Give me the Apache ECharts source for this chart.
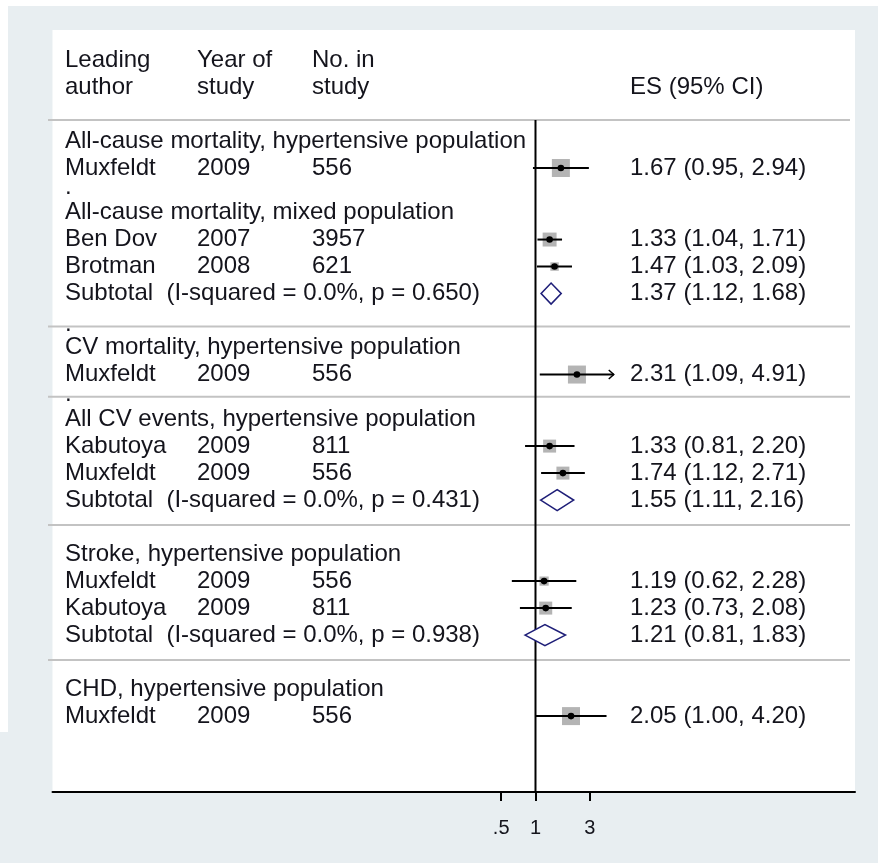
<!DOCTYPE html>
<html>
<head>
<meta charset="utf-8">
<script src="https://cdn.jsdelivr.net/npm/echarts@6/dist/echarts.min.js"></script>
<style>
  html, body { margin: 0; padding: 0; background: #ffffff; }
  #chart { width: 878px; height: 863px; }
</style>
</head>
<body>
<div id="chart"></div>
<script>
// ---- Subgroups (outcome, population) ----
const groupTitles = [
  'All-cause mortality, hypertensive population',
  'All-cause mortality, mixed population',
  'CV mortality, hypertensive population',
  'All CV events, hypertensive population',
  'Stroke, hypertensive population',
  'CHD, hypertensive population'
];
const groupSection = [0, 0, 1, 2, 3, 4];          // groups sharing a section are not ruled apart
const groupTrailingDot = [true, true, true, false, false, false];

// ---- Individual studies ----
const studyGroup  = [0, 1, 1, 2, 3, 3, 4, 4, 5];
const studyAuthor = ['Muxfeldt', 'Ben Dov', 'Brotman', 'Muxfeldt', 'Kabutoya', 'Muxfeldt', 'Muxfeldt', 'Kabutoya', 'Muxfeldt'];
const studyYear   = [2009, 2007, 2008, 2009, 2009, 2009, 2009, 2009, 2009];
const studyN      = [556, 3957, 621, 556, 811, 556, 556, 811, 556];
const studyES     = [1.67, 1.33, 1.47, 2.31, 1.33, 1.74, 1.19, 1.23, 2.05];
const studyLo     = [0.95, 1.04, 1.03, 1.09, 0.81, 1.12, 0.62, 0.73, 1.00];
const studyHi     = [2.94, 1.71, 2.09, 4.91, 2.20, 2.71, 2.28, 2.08, 4.20];
const studyWeight = [100, 60, 22, 100, 52, 52, 26, 52, 100]; // % weight within subgroup

// ---- Pooled subtotals ----
const subGroup = [1, 3, 4];
const subES    = [1.37, 1.55, 1.21];
const subLo    = [1.12, 1.11, 0.81];
const subHi    = [1.68, 2.16, 1.83];
const subI2    = ['0.0%', '0.0%', '0.0%'];
const subP     = ['0.650', '0.431', '0.938'];

// ---- Axis ----
const tickValues = [0.5, 1, 3];
const tickLabels = ['.5', '1', '3'];

// ---- Column headings ----
const headLine1 = ['Leading', 'Year of', 'No. in', ''];
const headLine2 = ['author', 'study', 'study', 'ES (95% CI)'];

// ---------------------------------------------------------------
// Layout
const FONT = '"Liberation Sans", Arial, sans-serif';
const INK = '#14141c';
const COL_X = [65, 197, 312, 630];       // text columns
const ROW_PX = 27;                        // one text line
const GRID = { left: 52.5, right: 23, top: 30, bottom: 71 };
const FIRST_ROW_Y = 141;
const Y_MIN = (GRID.top - FIRST_ROW_Y) / ROW_PX;
const Y_MAX = (863 - GRID.bottom - FIRST_ROW_Y) / ROW_PX;
const X_MIN = -9.758, X_MAX = 6.455;     // log-scale extent of the axis
const CI_CLIP = 4.86;                     // CI lines beyond this end in an arrow
const BOX_MAX = 18;

const fmt = v => v.toFixed(2);
const ciText = (e, l, h) => fmt(e) + ' (' + fmt(l) + ', ' + fmt(h) + ')';

// Build text rows, mark rows and rules
const textRows = [];
textRows.push({ slot: -3, cells: headLine1 });
textRows.push({ slot: -2, cells: headLine2 });
const rules = [-0.78];
const studySlot = [], subSlot = [];
let slot = 0;
groupTitles.forEach((title, g) => {
  textRows.push({ slot, cells: [title] });
  slot += 1;
  studyGroup.forEach((sg, i) => {
    if (sg !== g) return;
    studySlot[i] = slot;
    textRows.push({ slot, cells: [studyAuthor[i], String(studyYear[i]), String(studyN[i]),
      ciText(studyES[i], studyLo[i], studyHi[i])] });
    slot += 1;
  });
  const k = subGroup.indexOf(g);
  const hasSub = k >= 0;
  if (hasSub) {
    subSlot[k] = slot;
    textRows.push({ slot, cells: ['Subtotal  (I-squared = ' + subI2[k] + ', p = ' + subP[k] + ')', '', '',
      ciText(subES[k], subLo[k], subHi[k])] });
    slot += 1;
  }
  const last = slot - 1;
  let dotSlot = null;
  if (groupTrailingDot[g]) {
    dotSlot = hasSub ? last + 1.13 : last + 0.73;
    textRows.push({ slot: dotSlot, cells: ['.'] });
  }
  if (g < groupTitles.length - 1 && groupSection[g + 1] !== groupSection[g]) {
    rules.push(dotSlot !== null ? dotSlot + 0.09 : last + 0.92);
  }
  slot = hasSub ? last + 2 : last + 1.65;
});

const chart = echarts.init(document.getElementById('chart'), null, { renderer: 'canvas' });

const option = {
  backgroundColor: '#e8eef1',
  animation: false,
  graphic: [
    { type: 'rect', shape: { x: 0, y: 0, width: 878, height: 6 }, style: { fill: '#ffffff' }, silent: true },
    { type: 'rect', shape: { x: 0, y: 0, width: 8, height: 732 }, style: { fill: '#ffffff' }, silent: true }
  ],
  grid: {
    left: GRID.left, right: GRID.right, top: GRID.top, bottom: GRID.bottom,
    show: true, backgroundColor: '#ffffff', borderWidth: 0
  },
  xAxis: {
    type: 'value', min: X_MIN, max: X_MAX, position: 'bottom',
    splitLine: { show: false },
    axisLine: { show: true, onZero: false, lineStyle: { color: '#000', width: 2 } },
    axisTick: { show: true, customValues: tickValues.map(Math.log), length: 9,
      lineStyle: { color: '#000', width: 2 } },
    axisLabel: {
      show: true, customValues: tickValues.map(Math.log), margin: 26,
      fontSize: 20, fontFamily: FONT, color: INK,
      formatter: v => {
        const j = tickValues.findIndex(t => Math.abs(Math.log(t) - v) < 1e-6);
        return j >= 0 ? tickLabels[j] : '';
      }
    }
  },
  yAxis: { type: 'value', inverse: true, min: Y_MIN, max: Y_MAX, show: false },
  series: [
    // text rows (drawn first so the rules sit on top of the trailing dots)
    {
      type: 'custom', name: 'text', z: 1, clip: false,
      data: textRows.map((r, i) => [0, r.slot, i]),
      renderItem(params, api) {
        const r = textRows[api.value(2)];
        const y = api.coord([0, api.value(1)])[1];
        const children = [];
        r.cells.forEach((t, c) => {
          if (!t) return;
          children.push({ type: 'text', style: { text: t, x: COL_X[c], y, fill: INK,
            fontSize: 24, fontFamily: FONT, align: 'left', verticalAlign: 'middle' } });
        });
        return { type: 'group', children };
      }
    },
    // horizontal rules between sections
    {
      type: 'custom', name: 'rules', z: 2, clip: false,
      data: rules.map(s => [0, s]),
      renderItem(params, api) {
        const cs = params.coordSys;
        const y = api.coord([0, api.value(1)])[1];
        return { type: 'line', shape: { x1: cs.x - 4.5, y1: y, x2: cs.x + cs.width - 5, y2: y },
          style: { stroke: '#c3c3c3', lineWidth: 2 } };
      }
    },
    // line of no effect
    {
      type: 'custom', name: 'null', z: 3, clip: false,
      data: [[0, rules[0]]],
      renderItem(params, api) {
        const p0 = api.coord([0, api.value(1)]);
        const p1 = api.coord([0, Y_MAX]);
        return { type: 'line', shape: { x1: p0[0], y1: p0[1], x2: p1[0], y2: p1[1] },
          style: { stroke: '#000', lineWidth: 2 } };
      }
    },
    // study estimates with confidence intervals
    {
      type: 'custom', name: 'studies', z: 4, clip: false,
      data: studyES.map((e, i) => [Math.log(e), studySlot[i], Math.log(studyLo[i]),
        Math.log(Math.min(studyHi[i], CI_CLIP)), studyWeight[i], studyHi[i] > CI_CLIP ? 1 : 0]),
      renderItem(params, api) {
        const c = api.coord([api.value(0), api.value(1)]);
        const a = api.coord([api.value(2), api.value(1)]);
        const b = api.coord([api.value(3), api.value(1)]);
        const side = BOX_MAX * Math.sqrt(api.value(4) / 100);
        const children = [
          { type: 'rect', shape: { x: c[0] - side / 2, y: c[1] - side / 2, width: side, height: side },
            style: { fill: '#b4b4b4' } },
          { type: 'line', shape: { x1: a[0], y1: a[1], x2: b[0], y2: b[1] },
            style: { stroke: '#000', lineWidth: 2 } },
          { type: 'circle', shape: { cx: c[0], cy: c[1], r: 3.3 }, style: { fill: '#000' } }
        ];
        if (api.value(5)) {
          children.push({ type: 'polyline',
            shape: { points: [[b[0] - 5, b[1] - 4.5], [b[0], b[1]], [b[0] - 5, b[1] + 4.5]] },
            style: { stroke: '#000', lineWidth: 1.5, fill: null } });
        }
        return { type: 'group', children };
      }
    },
    // pooled subtotal diamonds
    {
      type: 'custom', name: 'subtotals', z: 4, clip: false,
      data: subES.map((e, k) => [Math.log(e), subSlot[k], Math.log(subLo[k]), Math.log(subHi[k])]),
      renderItem(params, api) {
        const c = api.coord([api.value(0), api.value(1)]);
        const a = api.coord([api.value(2), api.value(1)]);
        const b = api.coord([api.value(3), api.value(1)]);
        const h = 10.5;
        return { type: 'polygon',
          shape: { points: [[a[0], a[1]], [c[0], c[1] - h], [b[0], b[1]], [c[0], c[1] + h]] },
          style: { fill: '#ffffff', stroke: '#1e1e78', lineWidth: 1.6 } };
      }
    }
  ]
};
chart.setOption(option);
</script>
</body>
</html>
